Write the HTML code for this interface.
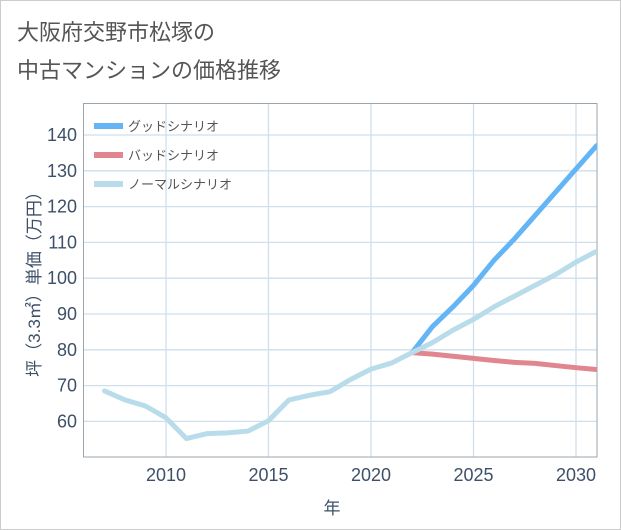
<!DOCTYPE html>
<html><head><meta charset="utf-8"><style>
body{margin:0;background:#fff}
svg{display:block}
text{font-family:"Liberation Sans","Noto Sans CJK JP",sans-serif}
</style></head><body>
<svg id="s" width="621" height="530" xmlns="http://www.w3.org/2000/svg">
<rect x="0.5" y="0.5" width="620" height="529" fill="#fff" stroke="#ccc"/>
<text x="17" y="40" font-size="22" fill="#555">大阪府交野市松塚の</text>
<text x="17" y="78" font-size="22" fill="#555">中古マンションの価格推移</text>
<defs><clipPath id="c"><rect x="83" y="103" width="514" height="354"/></clipPath></defs>
<g id="grid" stroke="#cfdfec" stroke-width="1.3"></g>
<rect x="83.5" y="103.5" width="513.5" height="353.5" fill="none" stroke="#9aa4ad"/>
<g id="lab" font-size="18" fill="#3d5068"></g>
<text x="332" y="514" font-size="17" fill="#3d5068" text-anchor="middle">年</text>
<text transform="translate(40,280) rotate(-90)" font-size="17" fill="#3d5068" text-anchor="middle">坪（3.3㎡）単価（万円）</text>
<g id="lines" clip-path="url(#c)" fill="none" stroke-width="5" stroke-linejoin="round" stroke-linecap="round"></g>
<g font-size="13" fill="#555">
<rect x="94" y="123" width="29" height="6" fill="#64b5f6"/><text x="128" y="131">グッドシナリオ</text>
<rect x="94" y="152" width="29" height="6" fill="#e0868f"/><text x="128" y="160">バッドシナリオ</text>
<rect x="94" y="181" width="29" height="6" fill="#b9dcea"/><text x="128" y="189">ノーマルシナリオ</text>
</g>
</svg>
<script>
const X=y=>166+(y-2010)*20.5, Y=v=>135+(140-v)*3.58;
let g='',l='';
for(let v=60;v<=140;v+=10){g+=`<line x1="83" x2="597" y1="${Y(v)}" y2="${Y(v)}"/>`;l+=`<text x="77" y="${Y(v)+6}" text-anchor="end">${v}</text>`;}
for(let y=2010;y<=2030;y+=5){g+=`<line y1="103" y2="457" x1="${X(y)}" x2="${X(y)}"/>`;l+=`<text x="${X(y)}" y="481" text-anchor="middle">${y}</text>`;}
document.getElementById('grid').innerHTML=g;document.getElementById('lab').innerHTML=l;
const n=[68.5,66,64.3,61,55.2,56.6,56.8,57.3,60.2,66,67.3,68.3,71.7,74.6,76.3,79.2,82,85.5,88.5,92,95,98,101,104.5,107.5];
const gd=[79.2,86.5,92,98,105,111,117.5,124,130.5,137];
const bd=[79.2,78.8,78.2,77.6,77,76.5,76.2,75.6,75,74.5];
const p=(a,s)=>a.map((v,i)=>X(s+i)+','+Y(v)).join(' ');
document.getElementById('lines').innerHTML=
`<polyline points="${p(gd,2022)}" stroke="#64b5f6"/><polyline points="${p(bd,2022)}" stroke="#e0868f"/><polyline points="${p(n,2007)}" stroke="#b9dcea"/>`;
</script>
</body></html>
